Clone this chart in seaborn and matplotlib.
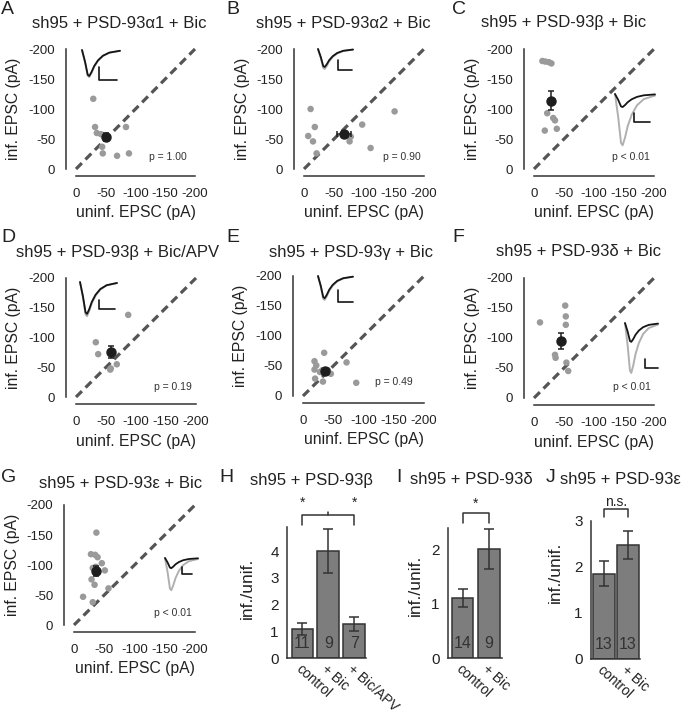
import matplotlib
matplotlib.use("Agg")
import matplotlib.pyplot as plt
import pandas as pd
import seaborn as sns

# ---------------- data ----------------
TICKS_PA = [0, -50, -100, -150, -200]
TICK_LABELS_PA = ["0", "-50", "-100", "-150", "-200"]
DIAG = [0, -200]

A_UNINF = [-29, -32, -35, -42, -44, -45, -69, -84, -89]
A_INF = [-117, -70, -60, -58, -37, -26, -22, -70, -26]
A_MEAN = [-51, -53]
A_SEM = [5, 7]

B_UNINF = [-11, -7, -15, -18, -21, -78, -76, -97, -111, -151]
B_INF = [-100, -55, -46, -70, -26, -54, -46, -74, -35, -96]
B_MEAN = [-67, -59]
B_SEM = [12, 5]

C_UNINF = [-14, -19, -25, -29, -22, -32, -35, -18, -38]
C_INF = [-180, -179, -178, -176, -93, -85, -81, -64, -67]
C_MEAN = [-28, -114]
C_SEM = [2, 16]

D_UNINF = [-33, -37, -57, -58, -68, -87]
D_INF = [-92, -72, -46, -48, -55, -138]
D_MEAN = [-59, -76]
D_SEM = [3, 10]

E_UNINF = [-19, -22, -19, -20, -33, -35, -32, -41, -46, -72, -88, -28]
E_INF = [-58, -51, -44, -29, -24, -72, -43, -43, -37, -56, -22, -40]
E_MEAN = [-37, -41]
E_SEM = [4, 3]

F_UNINF = [-10, -52, -53, -53, -35, -36, -54, -57]
F_INF = [-126, -154, -136, -122, -72, -67, -59, -45]
F_MEAN = [-45, -95]
F_SEM = [3, 14]

G_UNINF = [-37, -28, -35, -39, -46, -51, -31, -29, -34, -15, -31, -57, -36]
G_INF = [-154, -118, -117, -113, -103, -91, -95, -76, -67, -47, -38, -61, -97]
G_MEAN = [-36, -90]
G_SEM = [3, 9]

# example EPSC traces: normalised time course, peaks in scale-bar units (black, gray)
TRACE_T = [0.0, 0.08, 0.15, 0.19, 0.25, 0.32, 0.42, 0.55, 0.72, 1.0]
TRACE_Y = [0.0, 0.45, 0.95, 1.0, 0.85, 0.62, 0.40, 0.22, 0.10, 0.03]
PEAKS = {"A": [2.0, 2.08], "B": [1.8, 2.0], "C": [1.45, 5.7], "D": [3.55, 3.8],
         "E": [1.85, 2.0], "F": [2.1, 5.55], "G": [1.45, 4.6]}

H_CATS = ["control", "+ Bic", "+ Bic/APV"]
H_MEAN = [1.08, 4.0, 1.27]
H_ERR = [0.22, 0.83, 0.25]
H_N = [11, 9, 7]

I_CATS = ["control", "+ Bic"]
I_MEAN = [1.1, 2.0]
I_ERR = [0.16, 0.37]
I_N = [14, 9]

J_CATS = ["control", "+ Bic"]
J_MEAN = [1.85, 2.48]
J_ERR = [0.27, 0.30]
J_N = [13, 13]

# ---------------- style ----------------
sns.set_theme(style="white")
plt.rcParams["font.family"] = ["Liberation Sans", "DejaVu Sans"]
plt.rcParams["axes.unicode_minus"] = False
DARK = "#333333"
TXT = "#222222"

W, H = 685, 719
fig = plt.figure(figsize=(W / 100, H / 100), dpi=100)


def rect(x0, x1, y0, y1):
    return [x0 / W, 1 - y1 / H, (x1 - x0) / W, (y1 - y0) / H]


def ftext(x, y, s, **kw):
    kw.setdefault("color", TXT)
    fig.text(x / W, 1 - y / H, s, **kw)


SCATTER = [
    ("A", "sh95 + PSD-93\u03b11 + Bic", A_UNINF, A_INF, A_MEAN, A_SEM, "p = 1.00"),
    ("B", "sh95 + PSD-93\u03b12 + Bic", B_UNINF, B_INF, B_MEAN, B_SEM, "p = 0.90"),
    ("C", "sh95 + PSD-93\u03b2 + Bic", C_UNINF, C_INF, C_MEAN, C_SEM, "p < 0.01"),
    ("D", "sh95 + PSD-93\u03b2 + Bic/APV", D_UNINF, D_INF, D_MEAN, D_SEM, "p = 0.19"),
    ("E", "sh95 + PSD-93\u03b3 + Bic", E_UNINF, E_INF, E_MEAN, E_SEM, "p = 0.49"),
    ("F", "sh95 + PSD-93\u03b4 + Bic", F_UNINF, F_INF, F_MEAN, F_SEM, "p < 0.01"),
    ("G", "sh95 + PSD-93\u03b5 + Bic", G_UNINF, G_INF, G_MEAN, G_SEM, "p < 0.01"),
]

LAYOUT = {
    "A": dict(box=(76, 195, 49, 169), title=(119, 23), letter=(1, 1), p=(168, 157), inset=(82, 120, 50, 99, 80, 18, 13)),
    "B": dict(box=(304, 424, 49, 169), title=(343, 23), letter=(226, 1), p=(402, 157), inset=(318, 353, 49, 338, 70, 14, 10)),
    "C": dict(box=(534, 654, 49, 169), title=(564, 23), letter=(452, 1), p=(631, 157), inset=(615, 655, 94, 634, 122, 16, 9)),
    "D": dict(box=(76, 196, 278, 397), title=(118, 253), letter=(1, 229), p=(173, 387), inset=(80, 117, 282, 99, 309, 16, 9)),
    "E": dict(box=(303, 424, 276, 396), title=(351, 252), letter=(226, 229), p=(394, 382), inset=(318, 353, 276, 338, 302, 15, 12)),
    "F": dict(box=(534, 654, 278, 398), title=(579, 252), letter=(452, 229), p=(632, 387), inset=(625, 658, 323, 645, 368, 13, 9)),
    "G": dict(box=(74, 195, 505, 625), title=(121, 483), letter=(1, 469), p=(173, 613), inset=(165, 198, 558, 182, 574, 10, 7)),
}

for key, title, uninf, inf, mean, sem, ptxt in SCATTER:
    L = LAYOUT[key]
    x0, x1, y0, y1 = L["box"]
    ax = fig.add_axes(rect(x0, x1, y0, y1))
    ax.patch.set_alpha(0)
    ax.plot(DIAG, DIAG, ls=(0, (2.6, 1.6)), color="#555555", lw=2.3, zorder=1, clip_on=False)
    df = pd.DataFrame({"uninf": uninf, "inf": inf})
    sns.scatterplot(data=df, x="uninf", y="inf", ax=ax, color="#9a9a9a", s=22,
                    edgecolor="none", linewidth=0, zorder=2, clip_on=False, legend=False)
    ax.errorbar(mean[0], mean[1], xerr=sem[0], yerr=sem[1], fmt="o", color="#1e1e1e",
                ms=6.5, capsize=2.5, elinewidth=1.1, capthick=1.1, zorder=3, clip_on=False)
    ax.set_xlim(0, -200)
    ax.set_ylim(0, -200)
    ax.set_xticks(TICKS_PA)
    ax.set_yticks(TICKS_PA)
    ax.set_xticklabels(TICK_LABELS_PA)
    ax.set_yticklabels(TICK_LABELS_PA)
    ax.set_xlabel("")
    ax.set_ylabel("")
    for s in ("top", "right"):
        ax.spines[s].set_visible(False)
    for s in ("left", "bottom"):
        ax.spines[s].set_color(DARK)
        ax.spines[s].set_linewidth(1.1)
    ax.spines["left"].set_position(("outward", 7))
    ax.spines["bottom"].set_position(("outward", 5))
    ax.tick_params(axis="both", direction="out", length=4, width=1.1, colors=DARK,
                   labelsize=9.5, labelcolor=TXT)
    ax.tick_params(axis="x", pad=5)
    ax.tick_params(axis="y", pad=4)
    # texts
    ftext((x0 + x1) / 2, y1 + 44, "uninf. EPSC (pA)", fontsize=11.3, ha="center", va="center")
    ftext(x0 - 62, (y0 + y1) / 2, "inf. EPSC (pA)", fontsize=11.3, ha="center", va="center", rotation=90)
    ftext(*L["title"], title, fontsize=12, ha="center", va="center")
    ftext(*L["letter"], key, fontsize=14, ha="left", va="top")
    ftext(*L["p"], ptxt, fontsize=7.5, ha="center", va="center", color="#333333")

# ---------------- bar panels ----------------
BARS = [
    ("H", "sh95 + PSD-93\u03b2", H_CATS, H_MEAN, H_ERR, H_N),
    ("I", "sh95 + PSD-93\u03b4", I_CATS, I_MEAN, I_ERR, I_N),
    ("J", "sh95 + PSD-93\u03b5", J_CATS, J_MEAN, J_ERR, J_N),
]
BAR_LAYOUT = {
    "H": dict(box=(287, 366, 527, 658), xlim=(-0.6, 2.46), ylim=(0, 4.9), title=(250, 480),
              letter=(219, 469), ylabel=(247, 588), width=0.84, boundary_ticks=False),
    "I": dict(box=(448, 502, 528, 658), xlim=(-0.547, 1.49), ylim=(0, 2.39), title=(410, 480),
              letter=(396, 469), ylabel=(415, 585), width=0.82, boundary_ticks=False),
    "J": dict(box=(591, 640, 521, 659), xlim=(-0.54, 1.5), ylim=(0, 3.0), title=(560, 480),
              letter=(546, 469), ylabel=(555, 572), width=0.9, boundary_ticks=True),
}
BRACKETS = {
    "H": dict(x=[0, 2], y=5.35, drop=0.38, mid=1, midup=0.11, marks=[(0, 5.79, "*"), (2, 5.79, "*")]),
    "I": dict(x=[0, 1], y=2.66, drop=0.18, mid=None, midup=0, marks=[(0.5, 2.84, "*")]),
    "J": dict(x=[0, 1], y=3.26, drop=0.17, mid=None, midup=0, marks=[(0.5, 3.42, "n.s.")]),
}

for key, title, cats, means, errs, ns in BARS:
    L = BAR_LAYOUT[key]
    x0, x1, y0, y1 = L["box"]
    ax = fig.add_axes(rect(x0, x1, y0, y1))
    ax.patch.set_alpha(0)
    df = pd.DataFrame({"cond": cats, "ratio": means})
    sns.barplot(data=df, x="cond", y="ratio", ax=ax, color="#7d7d7d", saturation=1,
                edgecolor=DARK, linewidth=1.1, width=L["width"], errorbar=None)
    ax.errorbar(range(len(cats)), means, yerr=errs, fmt="none", ecolor=DARK,
                elinewidth=1.1, capsize=3.6, capthick=1.1, zorder=5)
    for i, n in enumerate(ns):
        ax.annotate(str(n), xy=(i, 0), xytext=(0, 10.5), textcoords="offset points",
                    ha="center", va="center", fontsize=11.5, color="#333333")
    ax.set_xlim(*L["xlim"])
    ax.set_ylim(*L["ylim"])
    top = L["ylim"][1]
    ax.set_yticks(list(range(0, int(top) + 1)))
    ax.set_yticks([v + 0.5 for v in range(0, int(top + 0.5))], minor=True)
    ax.set_xticks(range(len(cats)))
    ax.set_xticklabels(cats, rotation=-42, ha="left", va="top", rotation_mode="anchor",
                       fontsize=10, color=TXT)
    if L["boundary_ticks"]:
        ax.set_xticks([i - 0.5 for i in range(len(cats) + 1)], minor=True)
        ax.tick_params(axis="x", which="minor", direction="out", length=6, width=1.1, colors=DARK)
    ax.tick_params(axis="x", which="major", length=0, pad=3)
    ax.tick_params(axis="y", which="both", direction="out", length=4, width=1.1, colors=DARK,
                   labelsize=11, labelcolor=TXT, pad=2)
    ax.set_xlabel("")
    ax.set_ylabel("")
    for s in ("top", "right"):
        ax.spines[s].set_visible(False)
    for s in ("left", "bottom"):
        ax.spines[s].set_color(DARK)
        ax.spines[s].set_linewidth(1.1)
    # significance bracket
    B = BRACKETS[key]
    bx0, bx1 = B["x"]
    ax.plot([bx0, bx0, bx1, bx1], [B["y"] - B["drop"], B["y"], B["y"], B["y"] - B["drop"]],
            color=DARK, lw=1.1, clip_on=False)
    if B["mid"] is not None:
        ax.plot([B["mid"], B["mid"]], [B["y"], B["y"] + B["midup"]], color=DARK, lw=1.1, clip_on=False)
    for mx, my, mt in B["marks"]:
        ax.text(mx, my, mt, ha="center", va="center", fontsize=10, color=TXT, clip_on=False)
    ftext(*L["ylabel"], "inf./unif.", fontsize=12.5, ha="center", va="center", rotation=90)
    ftext(*L["title"], title, fontsize=12, ha="left", va="center")
    ftext(*L["letter"], key, fontsize=14, ha="left", va="top")

# ---------------- example traces (overlay in pixel units) ----------------
ov = fig.add_axes([0, 0, 1, 1])
ov.set_xlim(0, W)
ov.set_ylim(H, 0)
ov.axis("off")
ov.patch.set_alpha(0)
for key, peaks in PEAKS.items():
    tx0, tx1, base, sx, sy, sw, sh = LAYOUT[key]["inset"]
    xs = [tx0 + t * (tx1 - tx0) for t in TRACE_T]
    for amp, col, lw in ((peaks[1], "#b0b0b0", 1.4), (peaks[0], "#151515", 1.3)):
        ys = [base + f * amp * sh for f in TRACE_Y]
        ov.plot(xs, ys, color=col, lw=lw, solid_capstyle="round")
    ov.plot([sx, sx, sx + sw], [sy - sh, sy, sy], color="#151515", lw=1.2)

fig.savefig("out.png", dpi=100)
